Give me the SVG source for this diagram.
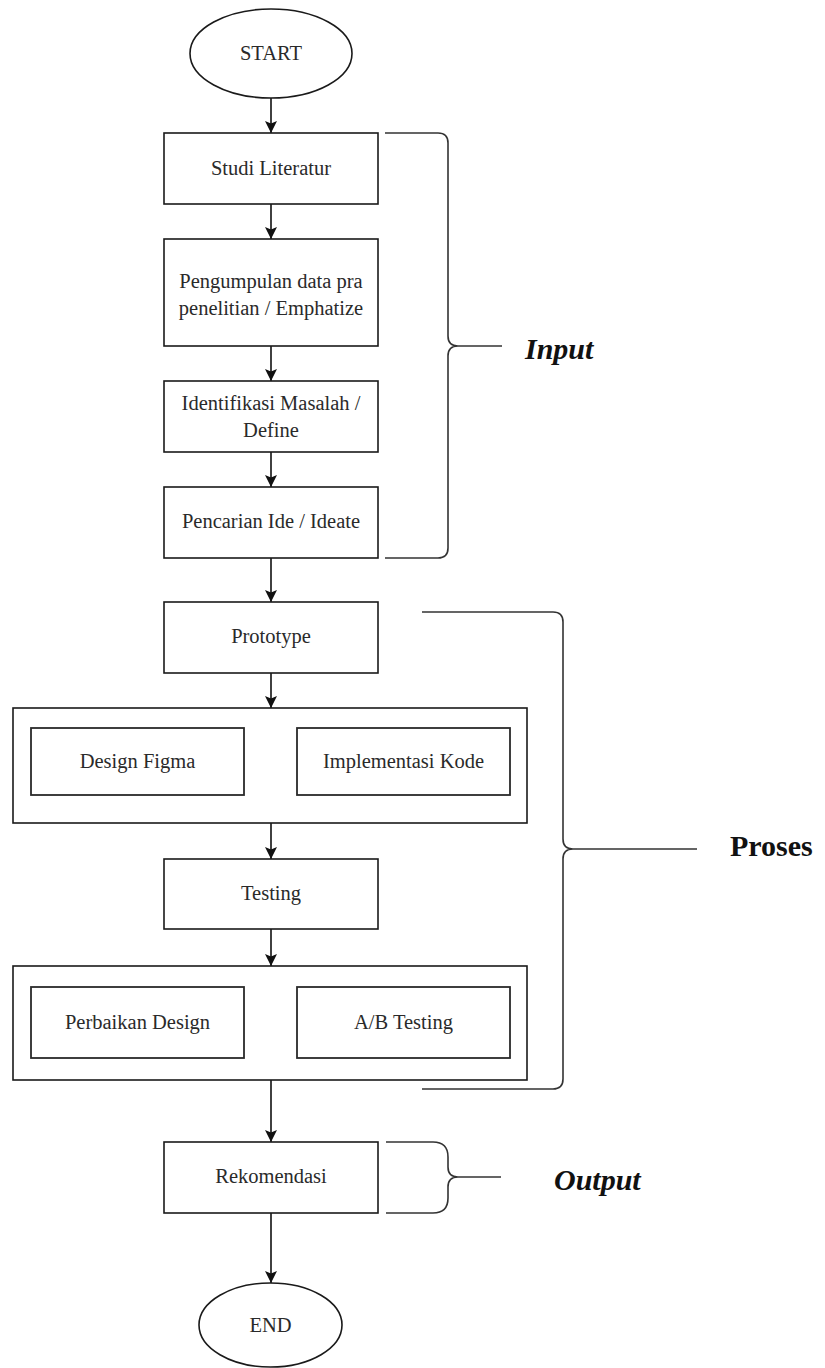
<svg xmlns="http://www.w3.org/2000/svg" width="825" height="1368" viewBox="0 0 825 1368">
<defs>
<style>
.box{fill:#fff;stroke:#1a1a1a;stroke-width:1.6}
.inner{fill:#fff;stroke:#2a2a2a;stroke-width:1.8}
.t{font-family:"Liberation Serif","Times New Roman",serif;font-size:20.5px;fill:#2a2a2a;text-anchor:middle}
.lbl{font-family:"Liberation Serif","Times New Roman",serif;font-size:30px;font-weight:bold;fill:#111}
.conn{stroke:#111;stroke-width:1.6;fill:none}
.brace{stroke:#333;stroke-width:1.6;fill:none}
</style>
<marker id="arr" viewBox="0 0 12 12" refX="12" refY="6" markerWidth="12" markerHeight="12" markerUnits="userSpaceOnUse" orient="auto">
<path d="M0,0 L12,6 L0,12 L2.5,6 Z" fill="#111"/>
</marker>
</defs>
<rect width="825" height="1368" fill="#fff"/>

<g id="connectors">
<line class="conn" x1="271" y1="98" x2="271" y2="133" marker-end="url(#arr)"/>
<line class="conn" x1="271" y1="204" x2="271" y2="239" marker-end="url(#arr)"/>
<line class="conn" x1="271" y1="346" x2="271" y2="381" marker-end="url(#arr)"/>
<line class="conn" x1="271" y1="452" x2="271" y2="487" marker-end="url(#arr)"/>
<line class="conn" x1="271" y1="558" x2="271" y2="602" marker-end="url(#arr)"/>
<line class="conn" x1="271" y1="673" x2="271" y2="708" marker-end="url(#arr)"/>
<line class="conn" x1="271" y1="823" x2="271" y2="859" marker-end="url(#arr)"/>
<line class="conn" x1="271" y1="929" x2="271" y2="966" marker-end="url(#arr)"/>
<line class="conn" x1="271" y1="1080" x2="271" y2="1142" marker-end="url(#arr)"/>
<line class="conn" x1="271" y1="1213" x2="271" y2="1283" marker-end="url(#arr)"/>
</g>

<g id="start">
<ellipse cx="271" cy="53.5" rx="81" ry="44.5" class="box"/>
<text x="271" y="60" class="t">START</text>
</g>
<g id="studi-literatur">
<rect x="164" y="133" width="214" height="71" class="box"/>
<text x="271" y="175" class="t">Studi Literatur</text>
</g>
<g id="pengumpulan">
<rect x="164" y="239" width="214" height="107" class="box"/>
<text x="271" y="288" class="t">Pengumpulan data pra</text>
<text x="271" y="315" class="t">penelitian / Emphatize</text>
</g>
<g id="identifikasi">
<rect x="164" y="381" width="214" height="71" class="box"/>
<text x="271" y="410" class="t">Identifikasi Masalah /</text>
<text x="271" y="437" class="t">Define</text>
</g>
<g id="pencarian-ide">
<rect x="164" y="487" width="214" height="71" class="box"/>
<text x="271" y="528" class="t">Pencarian Ide / Ideate</text>
</g>
<g id="prototype">
<rect x="164" y="602" width="214" height="71" class="box"/>
<text x="271" y="643" class="t">Prototype</text>
</g>
<g id="prototype-group">
<rect x="13" y="708" width="514" height="115" class="box"/>
<g id="design-figma">
<rect x="31" y="728" width="213" height="67" class="inner"/>
<text x="137.5" y="768" class="t">Design Figma</text>
</g>
<g id="implementasi-kode">
<rect x="297" y="728" width="213" height="67" class="inner"/>
<text x="403.5" y="768" class="t">Implementasi Kode</text>
</g>
</g>
<g id="testing">
<rect x="164" y="859" width="214" height="70" class="box"/>
<text x="271" y="900" class="t">Testing</text>
</g>
<g id="testing-group">
<rect x="13" y="966" width="514" height="114" class="box"/>
<g id="perbaikan-design">
<rect x="31" y="987" width="213" height="71" class="inner"/>
<text x="137.5" y="1029" class="t">Perbaikan Design</text>
</g>
<g id="ab-testing">
<rect x="297" y="987" width="213" height="71" class="inner"/>
<text x="403.5" y="1029" class="t">A/B Testing</text>
</g>
</g>
<g id="rekomendasi">
<rect x="164" y="1142" width="214" height="71" class="box"/>
<text x="271" y="1183" class="t">Rekomendasi</text>
</g>
<g id="end">
<ellipse cx="270.5" cy="1325" rx="71.5" ry="42" class="box"/>
<text x="270.5" y="1332" class="t">END</text>
</g>

<g id="brace-input">
<path class="brace" d="M385,133 H438 Q448,133 448,143 V336 Q448,346 458,346 H502 M458,346 Q448,346 448,356 V548 Q448,558 438,558 H385"/>
<text x="525" y="359" class="lbl" font-style="italic">Input</text>
</g>
<g id="brace-proses">
<path class="brace" d="M422,612 H553 Q563,612 563,622 V839 Q563,849 573,849 H697 M573,849 Q563,849 563,859 V1079 Q563,1089 553,1089 H422"/>
<text x="730" y="856" class="lbl">Proses</text>
</g>
<g id="brace-output">
<path class="brace" d="M386,1142 H433 Q448,1142 448,1157 V1167 Q448,1177 458,1177 H501 M458,1177 Q448,1177 448,1187 V1198 Q448,1213 433,1213 H386"/>
<text x="554" y="1190" class="lbl" font-style="italic">Output</text>
</g>
</svg>
